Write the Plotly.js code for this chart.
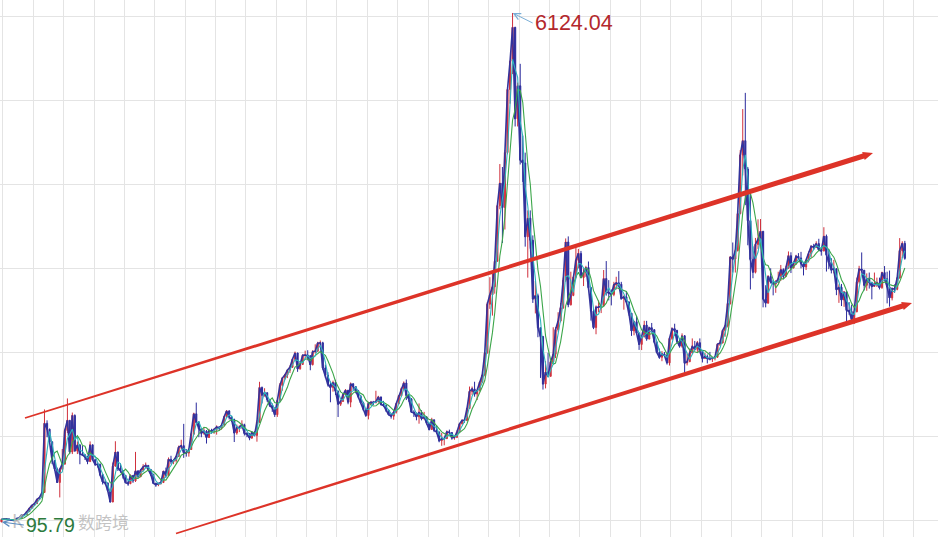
<!DOCTYPE html>
<html><head><meta charset="utf-8">
<script src="https://cdn.plot.ly/plotly-3.0.1.min.js"></script>
<style>html,body{margin:0;padding:0;background:#fff;overflow:hidden}#chart{width:938px;height:537px}</style>
</head><body><div id="chart"></div>
<script>
// Shanghai Composite, monthly bars from Dec 1990 to Sep 2020
const startYear = 1990, startMonth = 12;
const firstOpen = 96.05;
const closes = [
127.6,
130.0,133.1,120.2,113.9,114.8,137.6,145.6,180.2,180.9,218.6,259.6,292.8,
313.2,364.4,384.4,445.0,1265,1195,1046,823,722,564,720,780.4,
1180,1300,925,1358,936,1007,902,890,865,811,1010,833.8,
778,777,656,570,559,468,333,758,924,735,704,647.9,
562,549,647,583,701,631,710,749,766,717,661,555.3,
537,551,563,698,644,838,812,824,871,981,1000,917,
912,954,1136,1377,1276,1199,1148,1172,1097,1180,1168,1194,
1222,1206,1243,1342,1411,1339,1309,1150,1216,1218,1248,1146,
1134,1090,1159,1121,1279,1689,1601,1627,1547,1479,1446,1367,
1534,1714,1800,1836,1894,1928,2023,2097,1910,1961,2070,2073,
2065,1959,2112,2119,2214,2218,1920,1834,1724,1690,1747,1646,
1491,1524,1603,1656,1515,1732,1700,1650,1581,1507,1430,1357,
1500,1512,1510,1521,1577,1487,1477,1421,1367,1349,1397,1497,
1590,1675,1742,1595,1555,1399,1386,1342,1396,1320,1340,1266,
1191,1306,1181,1159,1060,1080,1083,1162,1155,1092,1099,1161,
1258,1299,1298,1440,1641,1672,1612,1658,1752,1837,2099,2675,
2786,2881,3183,3841,4109,3820,4471,5218,5552,5954,4871,5262,
4383,4348,3473,3693,3433,2736,2776,2397,2293,1729,1871,1821,
1991,2082,2373,2477,2633,2959,3412,2668,2779,2996,3195,3277,
2989,3051,3110,2871,2592,2398,2638,2639,2656,2979,2820,2808,
2791,2905,2928,2911,2743,2762,2701,2568,2359,2468,2333,2199,
2292,2428,2262,2397,2373,2225,2103,2047,2086,2069,1980,2269,
2385,2366,2237,2178,2301,1979,1994,2098,2175,2141,2220,2116,
2033,2056,2033,2026,2039,2048,2201,2217,2364,2420,2683,3235,
3210,3310,3748,4442,4612,4277,3664,3206,3053,3383,3445,3539,
2738,2688,3004,2938,2917,2930,2979,3085,3005,3100,3250,3104,
3159,3242,3223,3155,3117,3192,3273,3361,3349,3393,3317,3307,
3481,3259,3169,3082,3095,2847,2876,2725,2821,2603,2588,2494,
2585,2941,3091,3078,2899,2979,2933,2886,2905,2929,2872,3050,
2977,2880,2750,2860,2852,2985,3310,3396,3218
];
const highs = [
127.6,
135,134,134,121,115,138,146,181,182,219,260,293,
314,365,385,446,1429,1300,1200,1050,830,740,730,960,
1200,1559,1300,1392,1370,1050,1020,1000,900,880,1050,1010,
840,800,790,660,600,560,470,800,1052,930,790,710,
650,580,660,650,926,710,720,780,800,770,720,665,
560,560,570,700,740,860,880,840,880,1000,1070,1258,
960,970,1150,1390,1510,1290,1210,1210,1185,1200,1200,1200,
1240,1230,1260,1350,1422,1420,1350,1320,1250,1240,1300,1260,
1160,1150,1170,1170,1300,1756,1700,1680,1630,1550,1500,1450,
1540,1740,1810,1850,1900,1950,2030,2114,2100,1990,2080,2125,
2130,2070,2130,2200,2230,2245,2230,1960,1870,1760,1770,1780,
1650,1530,1620,1670,1660,1748,1740,1700,1660,1600,1520,1440,
1520,1530,1530,1650,1590,1580,1530,1480,1430,1380,1400,1500,
1600,1690,1760,1783,1600,1560,1420,1390,1500,1420,1400,1350,
1270,1330,1310,1240,1170,1150,1090,1180,1190,1160,1110,1180,
1260,1310,1310,1450,1700,1700,1757,1660,1760,1840,2100,2700,
2995,3040,3200,3850,4335,4300,4500,5220,5560,6124.04,5960,5300,
5522,4672,4470,3786,3786,3490,2950,2800,2400,2300,2000,2100,
2000,2402,2403,2580,2690,2990,3454,3478,3060,3000,3361,3330,
3306,3100,3130,3181,2880,2620,2660,2720,2680,3080,3186,2960,
2850,2940,3000,3067,2940,2780,2830,2710,2570,2480,2536,2340,
2300,2479,2478,2400,2453,2380,2235,2150,2120,2110,2090,2280,
2400,2444,2370,2270,2330,2310,2090,2150,2270,2240,2240,2270,
2120,2100,2080,2110,2050,2060,2210,2250,2370,2430,2690,3240,
3406,3330,3780,4500,4986,5178,4300,4006,3360,3460,3680,3684,
3540,2900,3020,3100,2960,2960,3060,3140,3100,3130,3300,3290,
3180,3260,3280,3295,3160,3200,3300,3370,3390,3420,3450,3330,
3587,3500,3330,3220,3200,3100,2910,2915,2830,2830,2700,2670,
2600,2990,3130,3288,3080,3040,3050,2940,3050,2990,2990,3060,
3127,3060,3074,2870,2910,2990,3458,3420,3425
];
const lows = [
95.79,
127,129,120,113,104.96,114,137,145,178,180,218,259,
292,313,364,384,445,1100,1020,781,700,560,386.85,720,
780,1150,900,900,930,900,780,880,830,780,810,830,
760,740,640,540,540,460,325.89,330,750,700,680,610,
560,524,545,560,570,620,630,700,730,700,640,550,
512,520,540,560,620,640,780,780,800,870,960,855,
870,870,950,1130,1270,1100,1100,1130,1025,1090,1140,1140,
1130,1180,1190,1240,1330,1310,1280,1043,1130,1160,1200,1120,
1100,1064,1080,1110,1047,1270,1500,1580,1520,1460,1400,1340,
1340,1530,1650,1780,1800,1860,1920,2010,1874,1900,1960,2030,
2010,1893,1950,2090,2110,2170,1900,1800,1700,1514,1640,1600,
1339,1470,1520,1590,1490,1455,1660,1620,1560,1500,1410,1340,
1311,1480,1480,1500,1510,1480,1460,1400,1360,1320,1307,1380,
1490,1580,1660,1540,1520,1390,1340,1300,1260,1300,1310,1250,
1180,1190,1160,1140,1040,998,1004,1080,1130,1070,1070,1090,
1160,1250,1270,1290,1440,1600,1580,1540,1640,1740,1820,2090,
2620,2540,2800,3180,3800,3400,3560,4450,5050,5400,4780,4780,
4330,4123,3357,2990,3333,2690,2566,2284,1802,1664,1678,1814,
1820,1985,2037,2350,2460,2620,2940,2639,2660,2770,2980,3100,
2986,2890,3000,2860,2481,2380,2319,2580,2570,2650,2777,2720,
2661,2770,2850,2880,2730,2610,2690,2540,2300,2307,2320,2134,
2132,2280,2242,2260,2360,2210,2100,2030,2000,2060,1960,1949,
2250,2300,2210,2160,2160,1849,1950,1990,2090,2130,2110,2110,
1985,2030,1974,2010,1991,2010,2040,2180,2210,2290,2400,2670,
3050,3050,3300,3740,4200,3848,3373,2850,2983,3040,3330,3390,
2638,2638,2680,2920,2780,2810,2930,2950,2970,3000,3100,3044,
3100,3140,3200,3100,3016,3080,3170,3230,3320,3340,3310,3250,
3300,3062,3090,3040,3040,2782,2691,2653,2644,2449,2550,2463,
2440,2580,2920,3050,2839,2834,2860,2733,2880,2880,2850,2857,
2955,2685,2646,2720,2810,2840,2980,3220,3202
];
const peakPoint = {date: '2007-10-16', value: 6124.04, text: '6124.04'};
const lowPoint = {date: '1990-12-19', value: 95.79, text: '95.79'};
const maShort = 3, maLong = 6;

// ---- derived ----
const W = 938, H = 537;
const dates = closes.map((_, i) => {
  const k = startMonth - 1 + i;
  const y = startYear + Math.floor(k / 12), m = k % 12 + 1;
  return y + '-' + String(m).padStart(2, '0') + '-15';
});
const opens = closes.map((c, i) => i === 0 ? firstOpen : closes[i - 1]);
function movingAverage(arr, n) {
  return arr.map((_, i) => {
    const s = Math.max(0, i - n + 1);
    const sl = arr.slice(s, i + 1);
    return sl.reduce((a, b) => a + b, 0) / sl.length;
  });
}

// hand-drawn channel arrows (overlay, in pixel space of the picture)
const channels = [
  {x0: 25, y0: 418, x1: 873, y1: 153, w0: 1.8, w1: 5.4, hl: 10, hw: 8.5},
  {x0: 176, y0: 533.5, x1: 912, y1: 303, w0: 1.8, w1: 5.2, hl: 10, hw: 8.5}
];
function arrowPath(c) {
  const dx = c.x1 - c.x0, dy = c.y1 - c.y0, L = Math.hypot(dx, dy);
  const ux = dx / L, uy = dy / L, nx = -uy, ny = ux;
  const bx = c.x1 - ux * c.hl, by = c.y1 - uy * c.hl;
  const pts = [
    [c.x0 + nx * c.w0 / 2, c.y0 + ny * c.w0 / 2],
    [bx + nx * c.w1 / 2, by + ny * c.w1 / 2],
    [bx + nx * c.hw / 2, by + ny * c.hw / 2],
    [c.x1, c.y1],
    [bx - nx * c.hw / 2, by - ny * c.hw / 2],
    [bx - nx * c.w1 / 2, by - ny * c.w1 / 2],
    [c.x0 - nx * c.w0 / 2, c.y0 - ny * c.w0 / 2]
  ];
  return 'M' + pts.map(p => (p[0] / W).toFixed(5) + ',' + (1 - p[1] / H).toFixed(5)).join('L') + 'Z';
}

const traces = [
  {type: 'candlestick', x: dates, open: opens, high: highs, low: lows, close: closes,
   increasing: {line: {color: '#d0303c', width: 1}, fillcolor: '#d0303c'},
   decreasing: {line: {color: '#2a2a9c', width: 1}, fillcolor: '#2a2a9c'},
   whiskerwidth: 0, hoverinfo: 'skip', showlegend: false},
  {type: 'scatter', mode: 'lines', x: dates, y: closes,
   line: {color: '#33339c', width: 1.6}, hoverinfo: 'skip', showlegend: false},
  {type: 'scatter', mode: 'lines', x: dates, y: movingAverage(closes, maLong),
   line: {color: '#3ca64a', width: 1.1}, hoverinfo: 'skip', showlegend: false},
  {type: 'scatter', mode: 'lines', x: dates, y: movingAverage(closes, maShort),
   line: {color: '#2fb3bb', width: 1.1}, hoverinfo: 'skip', showlegend: false}
];

const layout = {
  width: W, height: H,
  margin: {l: 0, r: 0, t: 0, b: 0, pad: 0},
  paper_bgcolor: '#ffffff', plot_bgcolor: '#ffffff',
  showlegend: false,
  xaxis: {type: 'date', range: ['1990-11-27', '2021-10-19'],
    showgrid: true, gridcolor: '#e4e4e4', gridwidth: 1,
    dtick: 'M12', tick0: '1991-01-01',
    showticklabels: false, ticks: '', zeroline: false, showline: false,
    rangeslider: {visible: false}},
  yaxis: {range: [-81.85, 6277.8], tick0: 119.5, dtick: 994.8,
    showgrid: true, gridcolor: '#e4e4e4', gridwidth: 1,
    showticklabels: false, ticks: '', zeroline: false, showline: false},
  shapes: channels.map(c => ({type: 'path', xref: 'paper', yref: 'paper', path: arrowPath(c),
    fillcolor: '#dd3328', line: {width: 0, color: 'rgba(0,0,0,0)'}, layer: 'above'})),
  annotations: [
    {xref: 'paper', yref: 'paper', x: 10 / W, y: 1 - 521 / H, xanchor: 'left', yanchor: 'middle',
     text: 'K', showarrow: false, font: {family: 'Noto Sans', size: 19, color: 'rgba(185,185,185,0.85)'}},
    {xref: 'paper', yref: 'paper', x: 76 / W, y: 1 - 521 / H, xanchor: 'left', yanchor: 'middle',
     text: '数跨境', showarrow: false, font: {family: 'Noto Sans CJK SC', size: 17, color: 'rgba(185,185,185,0.85)'}},
    {x: peakPoint.date, y: peakPoint.value, xref: 'x', yref: 'y', text: peakPoint.text,
     showarrow: true, arrowhead: 5, arrowsize: 1.3, arrowwidth: 1, arrowcolor: '#7aaed6',
     ax: 20, ay: 10, xanchor: 'left', yanchor: 'middle', standoff: 0,
     font: {family: 'Liberation Sans, Arial, sans-serif', size: 21.5, color: '#b3282d'}},
    {x: lowPoint.date, y: lowPoint.value, xref: 'x', yref: 'y', text: lowPoint.text,
     showarrow: true, arrowhead: 5, arrowsize: 1.3, arrowwidth: 1, arrowcolor: '#5a8cc0',
     ax: 22, ay: 3, xanchor: 'left', yanchor: 'middle', standoff: 0,
     font: {family: 'Liberation Sans, Arial, sans-serif', size: 19.5, color: '#2d7a3c'}}
  ]
};

Plotly.newPlot('chart', traces, layout, {displayModeBar: false, staticPlot: true});
</script>
</body></html>
